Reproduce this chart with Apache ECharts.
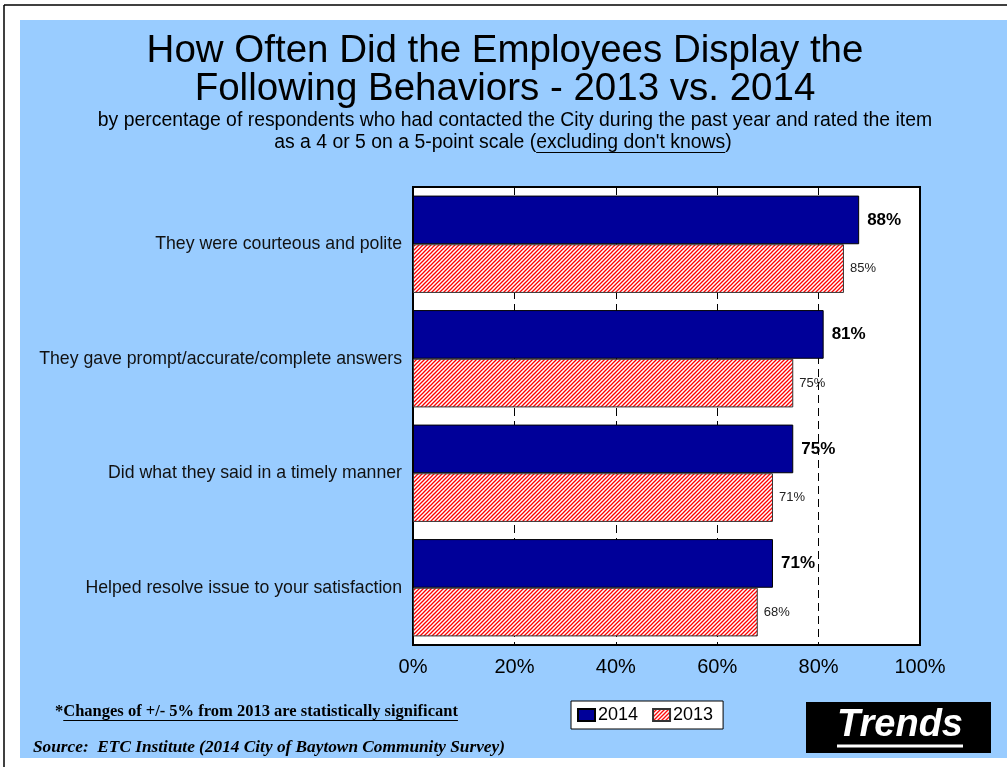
<!DOCTYPE html>
<html>
<head>
<meta charset="utf-8">
<title>Employee Behaviors 2013 vs 2014</title>
<script src="https://cdn.jsdelivr.net/npm/echarts@6/dist/echarts.min.js"></script>
<style>
  html, body { margin: 0; padding: 0; background: #fff; }
  #chart { width: 1007px; height: 767px; }
</style>
</head>
<body>
<div id="chart"></div>
<script>
// ---- data ----
const categories = [
  'They were courteous and polite',
  'They gave prompt/accurate/complete answers',
  'Did what they said in a timely manner',
  'Helped resolve issue to your satisfaction'
];
const seriesNames = ['2014', '2013'];
const values2014 = [88, 81, 75, 71];
const values2013 = [85, 75, 71, 68];
const axisMin = 0;
const axisMax = 100;
const axisStep = 20;

const titleLines = [
  'How Often Did the Employees Display the',
  'Following Behaviors - 2013 vs. 2014'
];
const subtitleLine1 = 'by percentage of respondents who had contacted the City during the past year and rated the item';
const subtitlePrefix = 'as a 4 or 5 on a 5-point scale (';
const subtitleUnderlined = 'excluding don\'t knows';
const subtitleSuffix = ')';
const footStar = '*';
const footNote = 'Changes of +/- 5% from 2013 are statistically significant';
const sourceText = 'Source:  ETC Institute (2014 City of Baytown Community Survey)';
const badgeText = 'Trends';

// ---- helpers ----
const SANS = '"Liberation Sans", Arial, sans-serif';
const SERIF = '"Liberation Serif", "Times New Roman", serif';

const measureCtx = document.createElement('canvas').getContext('2d');
function textWidth(str, font) {
  measureCtx.font = font;
  return measureCtx.measureText(str).width;
}

// red diagonal hatching used for the 2013 bars
function hatchPattern() {
  const c = document.createElement('canvas');
  c.width = 4; c.height = 4;
  const g = c.getContext('2d');
  g.fillStyle = '#ffffff';
  g.fillRect(0, 0, 4, 4);
  g.strokeStyle = '#ff0000';
  g.lineWidth = 1.3;
  g.beginPath();
  g.moveTo(-1, 5); g.lineTo(5, -1);
  g.moveTo(-1, 1); g.lineTo(1, -1);
  g.moveTo(3, 5); g.lineTo(5, 3);
  g.stroke();
  return c;
}

// ---- layout of free text ----
const subFont = '19.4px ' + SANS;
const sub2Full = subtitlePrefix + subtitleUnderlined + subtitleSuffix;
const sub2W = textWidth(sub2Full, subFont);
const sub2Start = 503 - sub2W / 2 + textWidth(subtitlePrefix, subFont);
const sub2End = sub2Start + textWidth(subtitleUnderlined, subFont);

const footFont = 'bold 16.5px ' + SERIF;
const footX = 55;
const footUStart = footX + textWidth(footStar, footFont);
const footUEnd = footX + textWidth(footStar + footNote, footFont);

const badgeFont = 'italic bold 38px ' + SANS;
const badgeW = textWidth(badgeText, badgeFont);
const badgeCx = 900;

const chart = echarts.init(document.getElementById('chart'), null, { renderer: 'canvas' });

chart.setOption({
  backgroundColor: '#ffffff',
  animation: false,
  graphic: [
    // page frame and panel
    { type: 'rect', z: -20, shape: { x: 20, y: 20, width: 987, height: 738 }, style: { fill: '#99ccff' } },
    { type: 'line', z: -19, shape: { x1: 4, y1: 5, x2: 1007, y2: 5 }, style: { stroke: '#000', lineWidth: 1.5 } },
    { type: 'line', z: -19, shape: { x1: 4, y1: 5, x2: 4, y2: 767 }, style: { stroke: '#000', lineWidth: 1.5 } },

    // headings
    { type: 'text', x: 505, y: 51, style: { text: titleLines[0], font: '38.5px ' + SANS, fill: '#000', align: 'center', verticalAlign: 'middle' } },
    { type: 'text', x: 505, y: 89, style: { text: titleLines[1], font: '38.5px ' + SANS, fill: '#000', align: 'center', verticalAlign: 'middle' } },
    { type: 'text', x: 515, y: 121, style: { text: subtitleLine1, font: subFont, fill: '#000', align: 'center', verticalAlign: 'middle' } },
    { type: 'text', x: 503, y: 143, style: { text: sub2Full, font: subFont, fill: '#000', align: 'center', verticalAlign: 'middle' } },
    { type: 'line', shape: { x1: sub2Start, y1: 152.5, x2: sub2End, y2: 152.5 }, style: { stroke: '#000', lineWidth: 1 } },

    // footnotes
    { type: 'text', x: footX, y: 712, style: { text: footStar + footNote, font: footFont, fill: '#000', align: 'left', verticalAlign: 'middle' } },
    { type: 'line', shape: { x1: footUStart, y1: 720.5, x2: footUEnd, y2: 720.5 }, style: { stroke: '#000', lineWidth: 1 } },
    { type: 'text', x: 33, y: 748, style: { text: sourceText, font: 'italic bold 17.3px ' + SERIF, fill: '#000', align: 'left', verticalAlign: 'middle' } },

    // badge
    { type: 'rect', shape: { x: 806, y: 702, width: 185, height: 51 }, style: { fill: '#000' } },
    { type: 'text', x: badgeCx, y: 726, style: { text: badgeText, font: badgeFont, fill: '#fff', align: 'center', verticalAlign: 'middle' } },
    { type: 'line', shape: { x1: badgeCx - badgeW / 2, y1: 746, x2: badgeCx + badgeW / 2, y2: 746 }, style: { stroke: '#fff', lineWidth: 3 } }
  ],
  legend: {
    data: seriesNames,
    left: 571,
    top: 701,
    orient: 'horizontal',
    icon: 'rect',
    itemWidth: 17,
    itemHeight: 12,
    itemGap: 14,
    padding: [5, 10, 5, 6],
    backgroundColor: '#ffffff',
    borderColor: '#000000',
    borderWidth: 1,
    borderRadius: 0,
    textStyle: { fontFamily: SANS, fontSize: 18, color: '#000', padding: [0, 0, 0, -2] }
  },
  grid: {
    left: 413,
    right: 87,
    top: 187,
    bottom: 122,
    show: true,
    backgroundColor: '#ffffff',
    borderColor: '#000000',
    borderWidth: 2,
    containLabel: false
  },
  xAxis: {
    type: 'value',
    min: axisMin,
    max: axisMax,
    interval: axisStep,
    axisLine: { show: false },
    axisTick: { show: false },
    splitLine: { show: true, lineStyle: { color: '#000', width: 1, type: [8, 5] } },
    axisLabel: { formatter: '{value}%', fontFamily: SANS, fontSize: 20, color: '#000', margin: 12 }
  },
  yAxis: {
    type: 'category',
    data: categories,
    inverse: true,
    axisLine: { show: false },
    axisTick: { show: false },
    splitLine: { show: false },
    axisLabel: { fontFamily: SANS, fontSize: 17.7, color: '#111', margin: 11 }
  },
  series: [
    {
      name: seriesNames[0],
      type: 'bar',
      data: values2014,
      barGap: '0%',
      barCategoryGap: '15%',
      itemStyle: { color: '#000099', borderColor: '#000', borderWidth: 1 },
      label: {
        show: true, position: 'right', distance: 8, formatter: '{c}%',
        fontFamily: SANS, fontSize: 17, fontWeight: 'bold', color: '#000'
      }
    },
    {
      name: seriesNames[1],
      type: 'bar',
      data: values2013,
      barGap: '0%',
      barCategoryGap: '15%',
      itemStyle: { color: { image: hatchPattern(), repeat: 'repeat' }, borderColor: '#333', borderWidth: 1 },
      label: {
        show: true, position: 'right', distance: 6, formatter: '{c}%',
        fontFamily: SANS, fontSize: 13, color: '#222'
      }
    }
  ]
});
</script>
</body>
</html>
